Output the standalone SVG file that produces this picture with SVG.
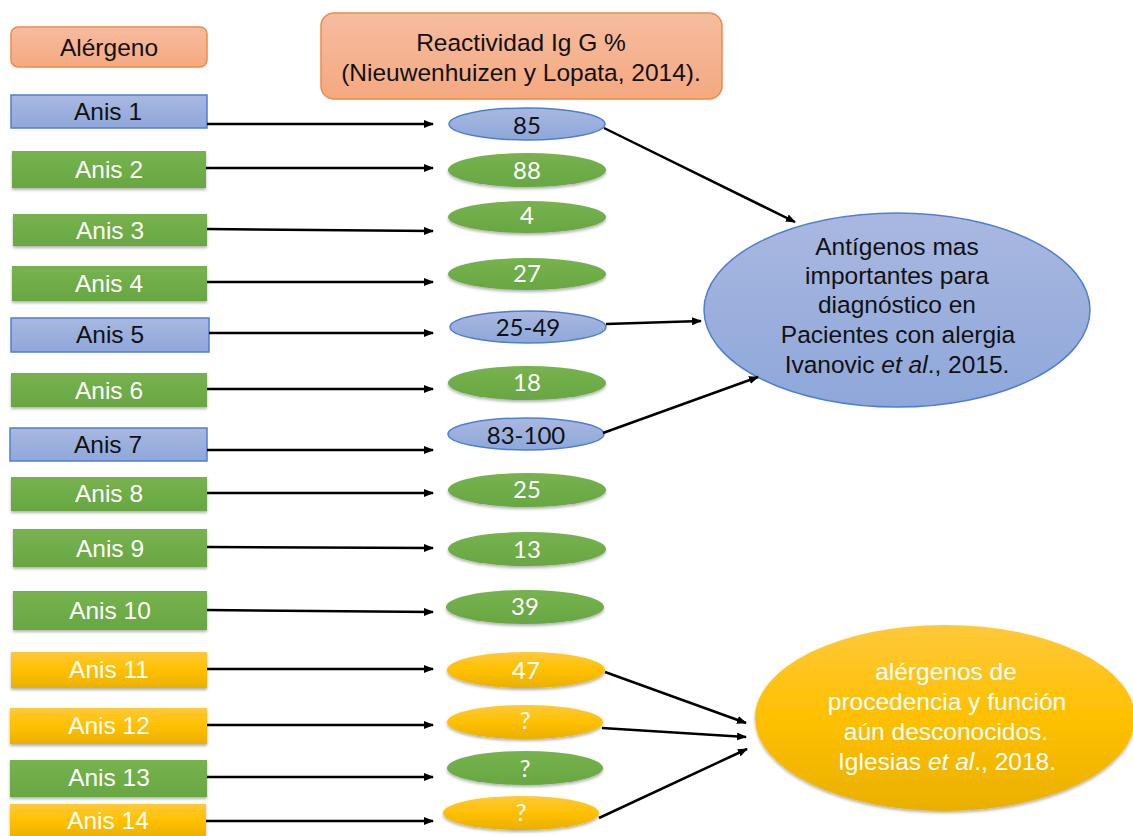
<svg xmlns="http://www.w3.org/2000/svg" width="1133" height="836" viewBox="0 0 1133 836">
<defs>
<linearGradient id="gBlue" x1="0" y1="0" x2="0" y2="1"><stop offset="0" stop-color="#a9b8e0"/><stop offset="1" stop-color="#8ea7da"/></linearGradient>
<linearGradient id="gOrange" x1="0" y1="0" x2="0" y2="1"><stop offset="0" stop-color="#f7bca0"/><stop offset="1" stop-color="#f4a97f"/></linearGradient>
<linearGradient id="gYellow" x1="0" y1="0" x2="0" y2="1"><stop offset="0" stop-color="#ffc93a"/><stop offset="0.5" stop-color="#ffc000"/><stop offset="1" stop-color="#e9b000"/></linearGradient>
<linearGradient id="gGreen" x1="0" y1="0" x2="0" y2="1"><stop offset="0" stop-color="#76b34f"/><stop offset="1" stop-color="#68a741"/></linearGradient>
<filter id="sh" x="-10%" y="-20%" width="120%" height="150%"><feDropShadow dx="0" dy="2" stdDeviation="1.5" flood-color="#000" flood-opacity="0.3"/></filter>
<marker id="ah" markerWidth="10" markerHeight="8" refX="9" refY="4" orient="auto" markerUnits="userSpaceOnUse"><path d="M0,0 L10,4 L0,8 z" fill="#000"/></marker>
<style>
.t{font-family:"Liberation Sans",Arial,sans-serif;font-size:24.5px;text-anchor:middle;dominant-baseline:central}
.n{font-family:"Lato","Liberation Sans",sans-serif;font-size:24px;text-anchor:middle;dominant-baseline:central}
.w{fill:#fff}.k{fill:#111}
.blue{fill:url(#gBlue);stroke:#4f7fd0;stroke-width:1.5}
.green{fill:url(#gGreen);filter:url(#sh)}
.yellow{fill:url(#gYellow);filter:url(#sh)}
.orange{fill:url(#gOrange);stroke:#f08a4b;stroke-width:1.5}
.c{stroke:#000;stroke-width:2.5;fill:none;marker-end:url(#ah)}
</style>
</defs>

<g id="header-alergeno"><rect class="orange" x="11" y="27" width="196" height="40" rx="7"/><text class="t k" x="109" y="47">Alérgeno</text></g>
<g id="header-reactividad"><rect class="orange" x="321" y="13" width="401" height="86" rx="13"/><text class="t k" x="521" y="42">Reactividad Ig G %</text><text class="t k" x="521" y="72">(Nieuwenhuizen y Lopata, 2014).</text></g>

<g id="anis1"><rect class="blue" x="11" y="95" width="196" height="33"/><text class="t k" x="108" y="111">Anis 1</text></g>
<g id="anis2"><rect class="green" x="12" y="151" width="194" height="37"/><text class="t w" x="109" y="169">Anis 2</text></g>
<g id="anis3"><rect class="green" x="13" y="214" width="194" height="32"/><text class="t w" x="110" y="230">Anis 3</text></g>
<g id="anis4"><rect class="green" x="12" y="266" width="195" height="35"/><text class="t w" x="109" y="283">Anis 4</text></g>
<g id="anis5"><rect class="blue" x="11" y="318" width="198" height="34"/><text class="t k" x="110" y="334">Anis 5</text></g>
<g id="anis6"><rect class="green" x="11" y="373" width="196" height="34"/><text class="t w" x="109" y="390">Anis 6</text></g>
<g id="anis7"><rect class="blue" x="10" y="428" width="197" height="33"/><text class="t k" x="108" y="444">Anis 7</text></g>
<g id="anis8"><rect class="green" x="11" y="477" width="196" height="34"/><text class="t w" x="109" y="493">Anis 8</text></g>
<g id="anis9"><rect class="green" x="13" y="529" width="194" height="38"/><text class="t w" x="110" y="548">Anis 9</text></g>
<g id="anis10"><rect class="green" x="13" y="591" width="194" height="39"/><text class="t w" x="110" y="610">Anis 10</text></g>
<g id="anis11"><rect class="yellow" x="11" y="652" width="196" height="36"/><text class="t w" x="109" y="669">Anis 11</text></g>
<g id="anis12"><rect class="yellow" x="10" y="708" width="197" height="36"/><text class="t w" x="109" y="725">Anis 12</text></g>
<g id="anis13"><rect class="green" x="10" y="760" width="197" height="37"/><text class="t w" x="109" y="777">Anis 13</text></g>
<g id="anis14"><rect class="yellow" x="10" y="804" width="196" height="34"/><text class="t w" x="108" y="820">Anis 14</text></g>

<g id="v85"><ellipse class="blue" cx="527" cy="124" rx="78" ry="16"/><text class="n k" x="527" y="124">85</text></g>
<g id="v88"><ellipse class="green" cx="527" cy="170" rx="79" ry="17"/><text class="n w" x="527" y="169">88</text></g>
<g id="v4"><ellipse class="green" cx="527" cy="217" rx="79" ry="16"/><text class="n w" x="527" y="214">4</text></g>
<g id="v27"><ellipse class="green" cx="527" cy="274" rx="79" ry="16"/><text class="n w" x="527" y="272">27</text></g>
<g id="v25-49"><ellipse class="blue" cx="528" cy="327" rx="78" ry="16"/><text class="n k" x="528" y="326">25-49</text></g>
<g id="v18"><ellipse class="green" cx="527" cy="383" rx="79" ry="17"/><text class="n w" x="527" y="381">18</text></g>
<g id="v83-100"><ellipse class="blue" cx="526" cy="434" rx="78" ry="16"/><text class="n k" x="526" y="434">83-100</text></g>
<g id="v25"><ellipse class="green" cx="527" cy="490" rx="79" ry="17"/><text class="n w" x="527" y="488">25</text></g>
<g id="v13"><ellipse class="green" cx="527" cy="549" rx="79" ry="17"/><text class="n w" x="527" y="548">13</text></g>
<g id="v39"><ellipse class="green" cx="525" cy="607" rx="79" ry="17"/><text class="n w" x="525" y="605">39</text></g>
<g id="v47"><ellipse class="yellow" cx="526" cy="670" rx="79" ry="18"/><text class="n w" x="526" y="669">47</text></g>
<g id="v12q"><ellipse class="yellow" cx="525" cy="722" rx="78" ry="17"/><text class="n w" x="525" y="719">?</text></g>
<g id="v13q"><ellipse class="green" cx="525" cy="768" rx="78" ry="17"/><text class="n w" x="525" y="767">?</text></g>
<g id="v14q"><ellipse class="yellow" cx="521" cy="813" rx="78" ry="17"/><text class="n w" x="521" y="811">?</text></g>

<g id="antigenos"><ellipse class="blue" cx="897" cy="310" rx="193" ry="97"/>
<text class="t k" x="897" y="246">Antígenos mas</text>
<text class="t k" x="897" y="275">importantes para</text>
<text class="t k" x="897" y="304">diagnóstico en</text>
<text class="t k" x="898" y="334">Pacientes con alergia</text>
<text class="t k" x="897" y="364">Ivanovic <tspan font-style="italic">et al</tspan>., 2015.</text></g>

<g id="desconocidos"><ellipse class="yellow" cx="945" cy="718" rx="190" ry="93"/>
<text class="t w" x="946" y="671">alérgenos de</text>
<text class="t w" x="947" y="701">procedencia y función</text>
<text class="t w" x="946" y="731">aún desconocidos.</text>
<text class="t w" x="947" y="761">Iglesias <tspan font-style="italic">et al</tspan>., 2018.</text></g>

<g id="connectors">
<line class="c" x1="207" y1="124" x2="433" y2="124"/>
<line class="c" x1="206" y1="168" x2="433" y2="168"/>
<line class="c" x1="207" y1="229" x2="433" y2="231"/>
<line class="c" x1="207" y1="282" x2="433" y2="282"/>
<line class="c" x1="209" y1="333" x2="433" y2="333"/>
<line class="c" x1="207" y1="389" x2="433" y2="389"/>
<line class="c" x1="207" y1="450" x2="433" y2="450"/>
<line class="c" x1="207" y1="493" x2="433" y2="493"/>
<line class="c" x1="207" y1="547" x2="433" y2="548"/>
<line class="c" x1="207" y1="610" x2="433" y2="612"/>
<line class="c" x1="207" y1="669" x2="433" y2="669"/>
<line class="c" x1="207" y1="725" x2="433" y2="725"/>
<line class="c" x1="207" y1="777" x2="433" y2="777"/>
<line class="c" x1="206" y1="821" x2="433" y2="821"/>
<line class="c" x1="604" y1="128" x2="795" y2="222"/>
<line class="c" x1="606" y1="324" x2="701" y2="321"/>
<line class="c" x1="603" y1="433" x2="758" y2="377"/>
<line class="c" x1="605" y1="672" x2="746" y2="723"/>
<line class="c" x1="602" y1="728" x2="746" y2="737"/>
<line class="c" x1="599" y1="818" x2="747" y2="749"/>
</g>
</svg>
